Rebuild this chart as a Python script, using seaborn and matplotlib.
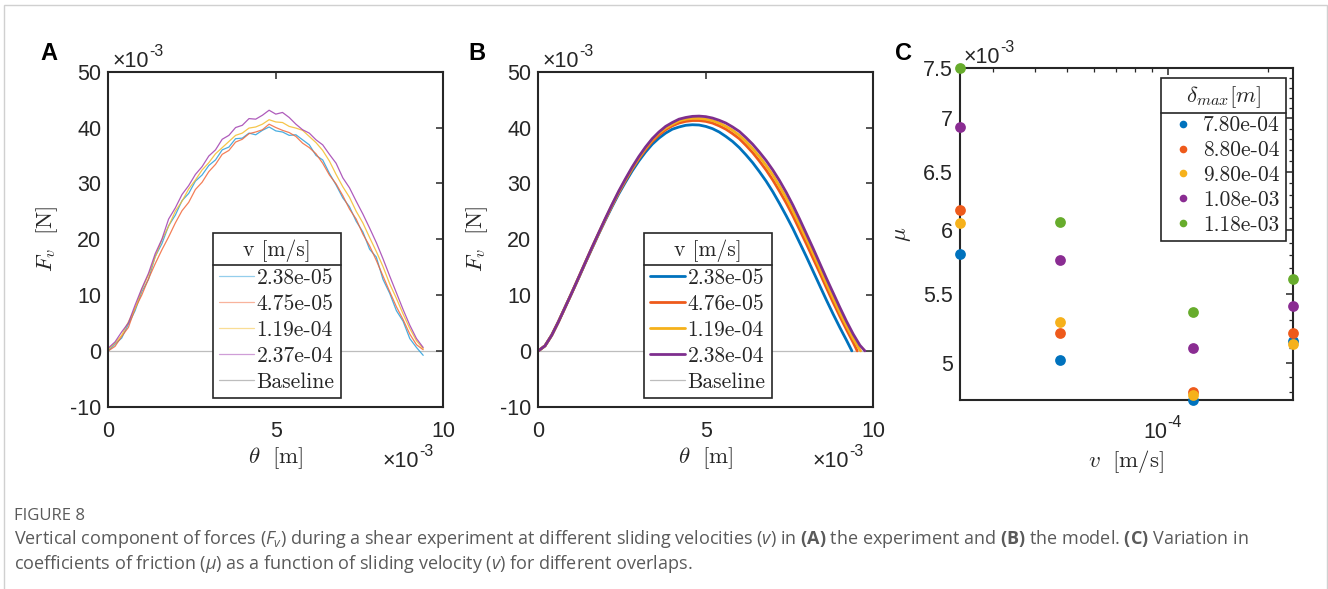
import numpy as np
import matplotlib
matplotlib.use("Agg")
import matplotlib.pyplot as plt
import seaborn as sns
from matplotlib.font_manager import FontProperties
from matplotlib.lines import Line2D
from matplotlib.patches import Rectangle
from matplotlib.ticker import FixedLocator, FixedFormatter, NullFormatter, LogLocator

# --- global style (MATLAB-like panels, journal caption underneath) ---
sns.set_theme(style="white")
plt.rcParams['font.family'] = ['Liberation Sans', 'DejaVu Sans']
plt.rcParams['mathtext.fontset'] = 'custom'
plt.rcParams['mathtext.rm'] = 'Open Sans'
plt.rcParams['mathtext.it'] = 'Open Sans:italic'
plt.rcParams['mathtext.bf'] = 'Open Sans:bold'
plt.rcParams['axes.unicode_minus'] = False

AX = '#262626'

# --- data: panel A (experiment), theta in 1e-3 m, Fv in 1e-3 N ---
theta_exp = [0.0, 0.2, 0.4, 0.6, 0.8, 1.0, 1.2, 1.4, 1.6, 1.8, 2.0, 2.2, 2.4, 2.6, 2.8, 3.0,
             3.2, 3.4, 3.6, 3.8, 4.0, 4.2, 4.4, 4.6, 4.8, 5.0, 5.2, 5.4, 5.6, 5.8, 6.0, 6.2,
             6.4, 6.6, 6.8, 7.0, 7.2, 7.4, 7.6, 7.8, 8.0, 8.2, 8.4, 8.6, 8.8, 9.0, 9.2, 9.4]
fv_exp_1 = [0.0, 1.2, 2.3, 4.8, 7.2, 10.6, 12.8, 16.9, 19.2, 22.4, 24.3, 26.9, 28.2, 30.4, 31.5, 33.2,
            34.2, 36.0, 36.5, 38.0, 38.1, 39.0, 38.7, 39.5, 40.1, 39.4, 39.2, 38.6, 38.7, 37.8, 36.9, 35.0,
            34.2, 31.8, 29.7, 27.4, 25.8, 23.2, 21.3, 18.2, 16.8, 12.8, 10.3, 7.2, 5.3, 2.2, 0.6, -0.8]
fv_exp_2 = [0.0, 0.8, 2.6, 4.2, 7.6, 10.0, 12.9, 15.6, 18.1, 20.4, 22.9, 25.1, 26.6, 28.9, 30.2, 32.1,
            33.4, 35.2, 35.9, 37.4, 37.9, 38.9, 39.2, 39.6, 40.6, 40.0, 39.5, 39.1, 38.4, 37.2, 36.4, 35.3,
            33.6, 31.5, 29.9, 27.8, 25.4, 23.6, 20.9, 18.8, 16.2, 13.4, 10.6, 7.9, 5.6, 3.0, 1.1, 0.2]
fv_exp_3 = [0.3, 1.4, 2.8, 5.2, 7.6, 11.0, 13.6, 16.8, 19.9, 22.3, 25.0, 26.8, 29.0, 30.6, 32.4, 33.7,
            35.3, 36.4, 37.5, 38.6, 39.0, 39.9, 40.1, 40.6, 41.4, 41.0, 40.9, 40.2, 39.9, 39.5, 38.4, 37.3,
            35.9, 34.0, 31.6, 29.4, 27.5, 25.0, 22.9, 20.3, 17.8, 15.1, 12.0, 9.4, 6.6, 4.0, 1.8, 0.4]
fv_exp_4 = [0.5, 1.6, 3.4, 5.0, 8.2, 11.2, 13.9, 17.4, 20.0, 23.6, 25.6, 28.0, 29.6, 31.6, 33.0, 34.9,
            36.0, 37.9, 38.6, 40.0, 40.4, 41.6, 41.5, 42.2, 43.1, 42.4, 42.7, 41.8, 40.6, 39.6, 39.0, 37.8,
            36.9, 35.2, 33.6, 31.0, 29.2, 26.8, 24.5, 22.0, 19.4, 16.5, 13.4, 10.4, 7.4, 4.6, 2.2, 0.6]
v_exp_labels = ['2.38e-05', '4.75e-05', '1.19e-04', '2.37e-04']

# --- data: panel B (model) ---
theta_model = [0.0, 0.2, 0.4, 0.6, 0.8, 1.0, 1.2, 1.4, 1.6, 1.8, 2.0, 2.2, 2.4, 2.6, 2.8, 3.0,
               3.2, 3.4, 3.6, 3.8, 4.0, 4.2, 4.4, 4.6, 4.8, 5.0, 5.2, 5.4, 5.6, 5.8, 6.0, 6.2,
               6.4, 6.6, 6.8, 7.0, 7.2, 7.4, 7.6, 7.8, 8.0, 8.2, 8.4, 8.6, 8.8, 9.0, 9.2]
fv_mod_1 = [0.0, 0.9, 2.8, 5.2, 7.8, 10.4, 13.0, 15.7, 18.3, 20.9, 23.4, 25.8, 28.1, 30.2, 32.2, 34.0,
            35.6, 37.0, 38.1, 39.0, 39.7, 40.1, 40.4, 40.5, 40.45, 40.2, 39.8, 39.2, 38.4, 37.5, 36.4, 35.1,
            33.7, 32.1, 30.4, 28.5, 26.4, 24.2, 21.9, 19.4, 16.9, 14.3, 11.7, 9.1, 6.6, 4.2, 1.9]
fv_mod_2 = [0.0, 0.9, 2.8, 5.2, 7.8, 10.4, 13.05, 15.75, 18.4, 21.0, 23.55, 26.0, 28.35, 30.5, 32.55, 34.4,
            36.05, 37.5, 38.65, 39.6, 40.3, 40.8, 41.1, 41.25, 41.25, 41.1, 40.8, 40.3, 39.7, 38.9, 38.0, 36.8,
            35.5, 34.0, 32.4, 30.6, 28.6, 26.5, 24.2, 21.7, 19.2, 16.6, 14.0, 11.3, 8.7, 6.2, 3.8]
fv_mod_3 = [0.0, 0.9, 2.8, 5.2, 7.8, 10.4, 13.1, 15.8, 18.45, 21.05, 23.6, 26.1, 28.45, 30.65, 32.7, 34.6,
            36.3, 37.8, 39.0, 39.9, 40.6, 41.2, 41.5, 41.65, 41.65, 41.5, 41.25, 40.8, 40.2, 39.5, 38.6, 37.5,
            36.2, 34.8, 33.2, 31.5, 29.5, 27.4, 25.1, 22.6, 20.1, 17.5, 14.8, 12.1, 9.5, 6.9, 4.5]
fv_mod_4 = [0.0, 0.9, 2.8, 5.2, 7.8, 10.4, 13.1, 15.8, 18.5, 21.1, 23.7, 26.2, 28.6, 30.8, 32.9, 34.8,
            36.5, 38.0, 39.2, 40.2, 40.9, 41.5, 41.8, 42.0, 42.05, 41.95, 41.7, 41.3, 40.8, 40.1, 39.3, 38.2,
            37.0, 35.6, 34.1, 32.4, 30.5, 28.4, 26.1, 23.6, 21.0, 18.4, 15.7, 13.0, 10.4, 7.8, 5.3]
# end of each model curve (where it returns to zero)
tail_theta_1, tail_fv_1 = [9.36], [0.0]
tail_theta_2, tail_fv_2 = [9.4, 9.52], [1.5, 0.0]
tail_theta_3, tail_fv_3 = [9.4, 9.62], [2.2, 0.0]
tail_theta_4, tail_fv_4 = [9.4, 9.6, 9.75], [3.0, 1.0, 0.0]
v_mod_labels = ['2.38e-05', '4.76e-05', '1.19e-04', '2.38e-04']

baseline_theta = [0.0, 10.0]
baseline_fv = [0.0, 0.0]

# --- data: panel C, v in m/s, mu in 1e-3 ---
v_c = [2.38e-5, 4.76e-5, 1.19e-4, 2.38e-4]
mu_780 = [5.81, 5.02, 4.75, 5.15]
mu_880 = [6.17, 5.21, 4.80, 5.21]
mu_980 = [6.06, 5.29, 4.78, 5.13]
mu_1080 = [6.92, 5.76, 5.10, 5.41]
mu_1180 = [7.50, 6.07, 5.36, 5.61]
delta_labels = ['7.80e-04', '8.80e-04', '9.80e-04', '1.08e-03', '1.18e-03']

exp_colors = ['#2A9FDB', '#F2683A', '#F4BC2C', '#A13FB0']
mod_colors = ['#0072BD', '#EE5A1B', '#F5B11A', '#7E2F8E']
c_colors = ['#0072BD', '#EE5A1B', '#F6B11B', '#8A2C92', '#67AC2C']

legend_font = FontProperties(family='cmr10', size=15.5)


def style_axes(ax):
    for s in ax.spines.values():
        s.set_color(AX)
        s.set_linewidth(1.5)
    ax.tick_params(which='both', direction='in', top=True, right=True,
                   colors=AX, labelcolor=AX, labelsize=15.5)
    ax.tick_params(which='major', length=5, width=1.1)
    ax.tick_params(which='minor', length=3, width=0.9)
    ax.tick_params(axis='y', pad=5)
    ax.tick_params(axis='x', pad=10)
    ax.grid(False)


def times_ten(ax, x, y, exponent='-3'):
    t = ax.text(x, y, '\u00d710', transform=ax.transAxes, fontsize=15.5, color=AX,
                ha='left', va='baseline', clip_on=False)
    ax.annotate(exponent, xy=(1.0, 0.62), xycoords=t, fontsize=11.5, color=AX,
                ha='left', va='bottom', annotation_clip=False)


def add_title_rule(fig, leg):
    r = fig.canvas.get_renderer()
    fb = leg.get_frame().get_window_extent(r)
    tb = leg.get_title().get_window_extent(r)
    eb = leg.get_texts()[0].get_window_extent(r)
    ysep = (tb.y0 + eb.y1) / 2
    inv = fig.transFigure.inverted()
    (x0, y0), (x1, _) = inv.transform([(fb.x0, ysep), (fb.x1, ysep)])
    fig.add_artist(Line2D([x0, x1], [y0, y0], transform=fig.transFigure,
                          color=AX, lw=1.2, zorder=10))


def force_panel(ax, curves, colors, labels, lw, alpha, title_x):
    handles = []
    for (xs, ys), c, lab in zip(curves, colors, labels):
        sns.lineplot(x=xs, y=ys, ax=ax, color=c, linewidth=lw, alpha=alpha,
                     sort=False, estimator=None, legend=False)
        ln = ax.lines[-1]
        ln.set_label(lab)
        handles.append(ln)
    sns.lineplot(x=baseline_theta, y=baseline_fv, ax=ax, color='#BDBDBD', linewidth=0.9,
                 sort=False, estimator=None, legend=False)
    base = ax.lines[-1]
    base.set_zorder(0.5)
    base.set_label('Baseline')
    handles.append(base)

    ax.set_xlim(0, 10)
    ax.set_ylim(-10, 50)
    ax.set_xticks([0, 5, 10])
    ax.set_yticks([-10, 0, 10, 20, 30, 40, 50])
    style_axes(ax)
    ax.set_xlabel(r'$\theta\ \ \mathrm{[m]}$', fontsize=16.5, color=AX, math_fontfamily='cm')
    ax.set_ylabel(r'$F_v\ \ \mathrm{[N]}$', fontsize=16.5, color=AX, math_fontfamily='cm')
    ax.xaxis.set_label_coords(0.5, -0.115)
    ax.yaxis.set_label_coords(-0.145, 0.5)
    times_ten(ax, 0.012, 1.014)
    times_ten(ax, 0.82, -0.18)

    leg = ax.legend(handles=handles, loc='upper left', bbox_to_anchor=(title_x, 0.5185),
                    borderaxespad=0, frameon=True, fancybox=False, framealpha=1,
                    prop=legend_font, title='v [m/s]',
                    title_fontproperties=FontProperties(family='cmr10', size=15.5),
                    handlelength=1.6, handletextpad=0.12, borderpad=0.3,
                    labelspacing=0.3, edgecolor=AX)
    leg.get_frame().set_linewidth(1.2)
    leg.set_zorder(5)
    return leg


fig = plt.figure(figsize=(13.28, 5.89), dpi=100)

# panel A
axA = fig.add_axes([108.3 / 1328, 1 - 406.7 / 589, 335 / 1328, 335 / 589])
legA = force_panel(axA,
                   [(theta_exp, fv_exp_1), (theta_exp, fv_exp_2),
                    (theta_exp, fv_exp_3), (theta_exp, fv_exp_4)],
                   exp_colors, v_exp_labels, 0.9, 0.85, 0.3125)
for h in legA.legend_handles[:-1]:
    h.set_alpha(0.5)

# panel B
axB = fig.add_axes([538.3 / 1328, 1 - 406.7 / 589, 335 / 1328, 335 / 589])
legB = force_panel(axB,
                   [(theta_model + tail_theta_1, fv_mod_1 + tail_fv_1),
                    (theta_model + tail_theta_2, fv_mod_2 + tail_fv_2),
                    (theta_model + tail_theta_3, fv_mod_3 + tail_fv_3),
                    (theta_model + tail_theta_4, fv_mod_4 + tail_fv_4)],
                   mod_colors, v_mod_labels, 2.0, 1.0, 0.3155)

# panel C
axC = fig.add_axes([960 / 1328, 1 - 400 / 589, 333 / 1328, 331.7 / 589])
c_handles = []
for mu, c, lab in zip([mu_780, mu_880, mu_980, mu_1080, mu_1180], c_colors, delta_labels):
    sns.scatterplot(x=v_c, y=mu, ax=axC, color=c, s=60, linewidth=0, clip_on=False,
                    zorder=4, legend=False)
    c_handles.append(Line2D([], [], marker='o', linestyle='none', markersize=5.5,
                            markerfacecolor=c, markeredgewidth=0, label=lab))
axC.set_xscale('log')
axC.set_yscale('log')
axC.set_xlim(2.38e-5, 2.38e-4)
axC.set_ylim(4.75, 7.5)
axC.xaxis.set_major_locator(FixedLocator([1e-4]))
axC.xaxis.set_major_formatter(NullFormatter())
axC.xaxis.set_minor_locator(LogLocator(base=10, subs=np.arange(2, 10)))
axC.xaxis.set_minor_formatter(NullFormatter())
mu_ticks = [5, 5.5, 6, 6.5, 7, 7.5]
axC.yaxis.set_major_locator(FixedLocator(mu_ticks))
axC.yaxis.set_major_formatter(FixedFormatter(['5', '5.5', '6', '6.5', '7', '7.5']))
axC.yaxis.set_minor_locator(FixedLocator(np.round(np.arange(4.8, 7.45, 0.1), 2)))
axC.yaxis.set_minor_formatter(NullFormatter())
style_axes(axC)
axC.set_xlabel(r'$v\ \ \mathrm{[m/s]}$', fontsize=16.5, color=AX, math_fontfamily='cm')
axC.set_ylabel(r'$\mu$', fontsize=16.5, color=AX, math_fontfamily='cm')
axC.xaxis.set_label_coords(0.5, -0.145)
axC.yaxis.set_label_coords(-0.14, 0.5)
times_ten(axC, 0.01, 1.015)
# single decade label 10^-4 centred on its tick
t10 = axC.text(1e-4, -0.115, '10', transform=axC.get_xaxis_transform(), fontsize=15.5,
               color=AX, ha='right', va='baseline', clip_on=False)
axC.annotate('-4', xy=(1.0, 0.62), xycoords=t10, fontsize=11.5, color=AX,
             ha='left', va='bottom', annotation_clip=False)

legC = axC.legend(handles=c_handles, loc='upper left', bbox_to_anchor=(0.6036, 0.9708),
                  borderaxespad=0, frameon=True, fancybox=False, framealpha=1,
                  prop=legend_font, title=r'$\delta_{max}[m]$',
                  title_fontproperties=FontProperties(size=16.5),
                  handlelength=1.45, handletextpad=0.2, borderpad=0.3,
                  labelspacing=0.25, edgecolor=AX)
legC.get_frame().set_linewidth(1.2)
legC.get_title().set_math_fontfamily('cm')

# panel letters
for x, lab in [(40, 'A'), (468, 'B'), (895, 'C')]:
    fig.text(x / 1328, 1 - 53 / 589, lab, fontsize=17, fontweight='bold', color='black',
             ha='left', va='center')

# caption
cap_kw = dict(family='Open Sans', color='#5a5a5a', ha='left', va='center', math_fontfamily='custom')
fig.text(14 / 1328, 1 - 516 / 589, 'FIGURE 8', fontsize=12, **cap_kw)
fig.text(14 / 1328, 1 - 539 / 589,
         r'Vertical component of forces ($F_v$) during a shear experiment at different sliding '
         r'velocities ($v$) in $\mathbf{(A)}$ the experiment and $\mathbf{(B)}$ the model. '
         r'$\mathbf{(C)}$ Variation in', fontsize=13, **cap_kw)
fig.text(14 / 1328, 1 - 564 / 589,
         r'coefficients of friction ($\mu$) as a function of sliding velocity ($v$) for different overlaps.',
         fontsize=13, **cap_kw)

# thin frame around the figure block
fig.add_artist(Rectangle((4 / 1328, -0.2), 1323 / 1328, 1.2 - 5 / 589, transform=fig.transFigure,
                         fill=False, edgecolor='#d0d0d0', linewidth=1.0))

fig.canvas.draw()
for leg in (legA, legB, legC):
    add_title_rule(fig, leg)

fig.savefig('out.png', dpi=100)
